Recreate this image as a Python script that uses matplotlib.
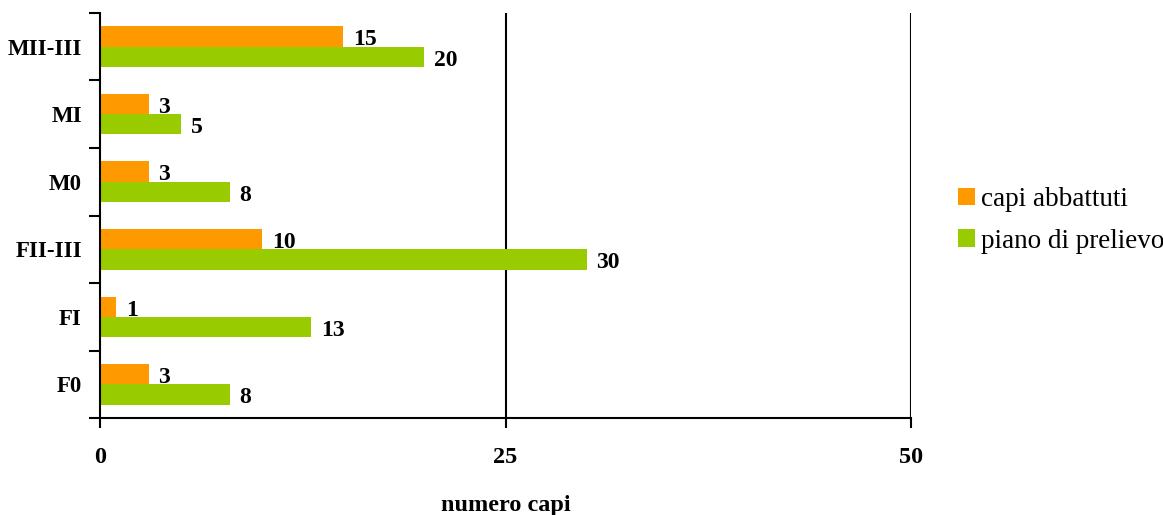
import numpy as np
from matplotlib import pyplot as plt

categories = ["F0", "FI", "FII-III", "M0", "MI", "MII-III"]
capi_abbattuti = [3, 1, 10, 3, 3, 15]
piano_prelievo = [8, 13, 30, 8, 5, 20]
xticks = [0, 25, 50]

orange = "#FF9900"
green = "#99CC00"
serif = ["Liberation Serif", "DejaVu Serif"]

fig = plt.figure(figsize=(11.63, 5.15), dpi=100)
ax = fig.add_axes([0.086, 0.188, 0.6975, 0.787])

y = np.arange(len(categories))
h = 0.3
b1 = ax.barh(y + h / 2, capi_abbattuti, height=h, color=orange, label="capi abbattuti")
b2 = ax.barh(y - h / 2, piano_prelievo, height=h, color=green, label="piano di prelievo")

# value labels next to each bar
for bars, vals in ((b1, capi_abbattuti), (b2, piano_prelievo)):
    for bar, v in zip(bars, vals):
        ax.text(v + 0.6, bar.get_y() + bar.get_height() / 2 - 0.05, str(v),
                va="center", ha="left", fontsize=17, fontweight="bold", family=serif)

for xv in xticks[1:]:
    ax.axvline(xv, color="black", lw=1.5, zorder=0)

ax.set_xlim(0, 50)
ax.set_ylim(-0.5, len(categories) - 0.5)
ax.set_xticks(xticks)
ax.set_xticklabels([str(v) for v in xticks], fontsize=17.5, fontweight="bold", family=serif)
ax.set_yticks(y)
ax.set_yticklabels(categories, fontsize=16.5, fontweight="bold", family=serif)
ax.set_yticks(np.arange(len(categories) + 1) - 0.5, minor=True)
ax.tick_params(axis="y", which="major", length=0, pad=13)
ax.tick_params(axis="y", which="minor", length=8, width=1.5, direction="out")
ax.tick_params(axis="x", length=7, width=1.5, direction="out", pad=14)

for s in ("top", "right"):
    ax.spines[s].set_visible(False)
for s in ("left", "bottom"):
    ax.spines[s].set_linewidth(1.5)

ax.set_xlabel("numero capi", fontsize=17.5, fontweight="bold", family=serif, labelpad=19)

fig.legend(handles=[b1, b2], loc="center left", bbox_to_anchor=(0.803, 0.572),
           frameon=False, prop={"family": serif, "size": 19.5},
           handlelength=0.63, handleheight=0.63, handletextpad=0.22, labelspacing=0.62)

plt.savefig("out.png", dpi=100)
